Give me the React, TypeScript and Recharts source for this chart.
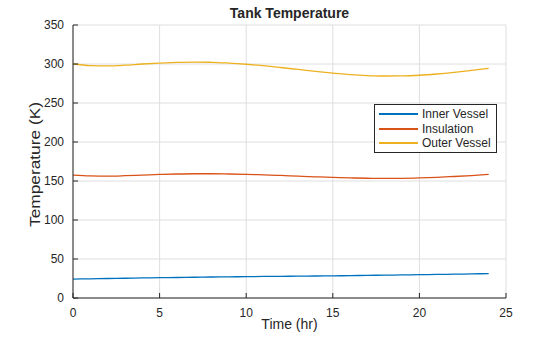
import React from "react";
import {
  LineChart,
  Line,
  XAxis,
  YAxis,
  CartesianGrid,
  Legend,
} from "recharts";

const hours = [
  0, 1, 2, 3, 4, 5, 6, 7, 8, 9, 10, 11, 12, 13, 14, 15, 16, 17, 18, 19, 20, 21,
  22, 23, 24,
];
const innerVessel = [
  24.2, 24.6, 25.0, 25.3, 25.7, 26.0, 26.3, 26.6, 26.9, 27.1, 27.4, 27.6, 27.8,
  28.0, 28.2, 28.4, 28.7, 29.0, 29.3, 29.6, 29.9, 30.2, 30.5, 30.9, 31.3,
];
const insulation = [
  157.6, 156.6, 156.3, 156.8, 157.6, 158.4, 159.0, 159.3, 159.3, 159.0, 158.6,
  157.9, 157.1, 156.2, 155.4, 154.7, 154.0, 153.5, 153.3, 153.4, 153.9, 154.7,
  155.8, 157.0, 158.4,
];
const outerVessel = [
  300.0, 298.0, 297.6, 298.5, 300.0, 301.2, 302.0, 302.4, 302.2, 301.2, 299.7,
  297.8, 295.5, 293.0, 290.5, 288.3, 286.5, 285.2, 284.6, 284.8, 285.6, 287.2,
  289.3, 291.8, 294.5,
];
const xTicks = [0, 5, 10, 15, 20, 25];
const yTicks = [0, 50, 100, 150, 200, 250, 300, 350];

const seriesNames = ["Inner Vessel", "Insulation", "Outer Vessel"];
const seriesKeys = ["inner", "insulation", "outer"];
const seriesColors = ["#0072BD", "#D95319", "#EDB120"];

const rows = hours.map((t, i) => ({
  t,
  inner: innerVessel[i],
  insulation: insulation[i],
  outer: outerVessel[i],
}));

const FONT = "'Liberation Sans', Arial, Helvetica, sans-serif";
const AXIS = "#262626";
const tickStyle = { fontSize: 12, fill: AXIS, fontFamily: FONT };

function LegendBox() {
  return (
    <div
      style={{
        border: `1px solid ${AXIS}`,
        background: "#fff",
        padding: "2px 5px 1px 3px",
        fontFamily: FONT,
        fontSize: 12,
        color: AXIS,
        lineHeight: "14.5px",
      }}
    >
      {seriesNames.map((name, i) => (
        <div key={name} style={{ display: "flex", alignItems: "center" }}>
          <svg width={43} height={6} style={{ marginRight: 1 }}>
            <line x1={1} x2={40} y1={3} y2={3} stroke={seriesColors[i]} strokeWidth={2} />
          </svg>
          <span>{name}</span>
        </div>
      ))}
    </div>
  );
}

function YLabel(props: any) {
  const vb = props.viewBox || { x: 0, y: 0, width: 0, height: 0 };
  const cx = vb.x + 35;
  const cy = vb.y + vb.height / 2 + 3;
  return (
    <text
      x={cx}
      y={cy}
      transform={`rotate(-90 ${cx} ${cy})`}
      textAnchor="middle"
      dominantBaseline="central"
      fontFamily={FONT}
      fontSize={14}
      fill={AXIS}
      textLength={125}
      lengthAdjust="spacingAndGlyphs"
    >
      Temperature (K)
    </text>
  );
}

export default function App() {
  return (
    <div style={{ position: "absolute", left: 0, top: 0, width: 560, height: 337, background: "#fff" }}>
      <div
        style={{
          position: "absolute",
          left: 73,
          width: 433,
          top: 5,
          textAlign: "center",
          fontFamily: FONT,
          fontWeight: "bold",
          fontSize: 14,
          color: AXIS,
          lineHeight: "16px",
        }}
      >
        Tank Temperature
      </div>
      <LineChart
        width={560}
        height={337}
        data={rows}
        margin={{ top: 25, right: 54, bottom: 0, left: 0 }}
      >
        <CartesianGrid xAxisId="b" yAxisId="l" stroke="#dedede" />
        <XAxis
          xAxisId="b"
          dataKey="t"
          type="number"
          domain={[0, 25]}
          ticks={xTicks}
          height={39}
          tick={tickStyle}
          tickSize={-5}
          tickMargin={15}
          axisLine={{ stroke: AXIS }}
          tickLine={{ stroke: AXIS }}
          label={{
            value: "Time (hr)",
            position: "insideBottom",
            offset: 8,
            style: { fontSize: 14, fill: AXIS, fontFamily: FONT },
          }}
        />
        <XAxis
          xAxisId="top"
          orientation="top"
          dataKey="t"
          type="number"
          domain={[0, 25]}
          ticks={xTicks}
          height={0}
          tick={false}
          tickSize={-5}
          axisLine={{ stroke: AXIS }}
          tickLine={{ stroke: AXIS }}
        />
        <YAxis
          yAxisId="l"
          type="number"
          domain={[0, 350]}
          ticks={yTicks}
          width={73}
          tick={tickStyle}
          tickSize={-5}
          tickMargin={14}
          axisLine={{ stroke: AXIS }}
          tickLine={{ stroke: AXIS }}
          label={<YLabel />}
        />
        <YAxis
          yAxisId="r"
          orientation="right"
          type="number"
          domain={[0, 350]}
          ticks={yTicks}
          width={0}
          tick={false}
          tickSize={-5}
          axisLine={{ stroke: AXIS }}
          tickLine={{ stroke: AXIS }}
        />
        <Legend
          layout="horizontal"
          align="center"
          verticalAlign="middle"
          wrapperStyle={{ top: 104, left: 374, width: "auto" }}
          content={() => <LegendBox />}
        />
        {seriesKeys.map((k, i) => (
          <Line
            key={k}
            xAxisId="b"
            yAxisId="l"
            type="monotone"
            dataKey={k}
            name={seriesNames[i]}
            stroke={seriesColors[i]}
            strokeWidth={1.3}
            dot={false}
            isAnimationActive={false}
          />
        ))}
      </LineChart>
    </div>
  );
}
